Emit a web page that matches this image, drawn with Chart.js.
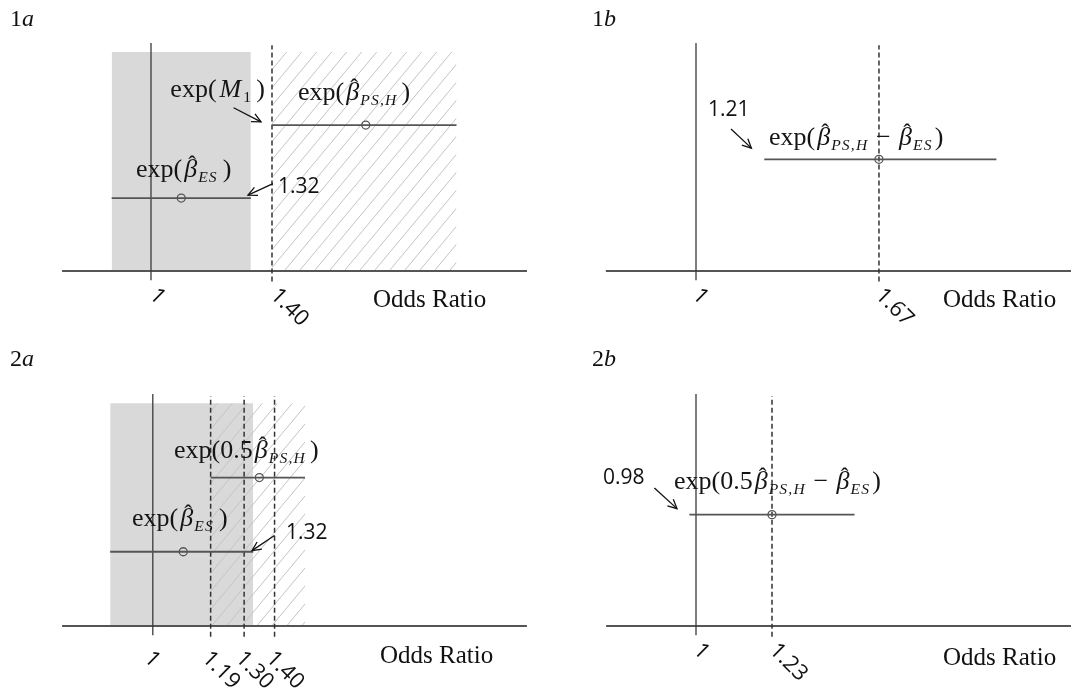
<!DOCTYPE html>
<html><head><meta charset="utf-8">
<script src="https://cdn.jsdelivr.net/npm/chart.js@4.4.1/dist/chart.umd.min.js"></script>
<style>
html,body{margin:0;padding:0;background:#fff;}
#wrap{position:relative;width:1071px;height:688px;overflow:hidden;background:#fff;}
canvas{position:absolute;}
</style></head><body>
<div id="wrap">
<canvas id="c1a" width="535" height="340" style="left:0;top:0"></canvas>
<canvas id="c1b" width="536" height="340" style="left:535px;top:0"></canvas>
<canvas id="c2a" width="535" height="348" style="left:0;top:340px"></canvas>
<canvas id="c2b" width="536" height="348" style="left:535px;top:340px"></canvas>
</div>
<script>
// ---------------- data (odds-ratio values) ----------------
// Panel 1a
const ticks1a = [1, 1.40];
const tickLabels1a = ['1', '1.40'];
const dashed1a = [1.40];
const ciLevel1a = [32, 64];          // rows: exp(b_ES), exp(b_PS,H)
const ciLow1a = [0.87, 1.40];
const ciEst1a = [1.10, 1.71];
const ciHigh1a = [1.33, 2.01];
const shade1a = [0.87, 1.33];
const hatch1a = [1.40, 2.01];

// Panel 1b
const ticks1b = [1, 1.67];
const tickLabels1b = ['1', '1.67'];
const dashed1b = [1.67];
const ciLevel1b = [49];
const ciLow1b = [1.25];
const ciEst1b = [1.67];
const ciHigh1b = [2.10];

// Panel 2a
const ticks2a = [1, 1.19, 1.30, 1.40];
const tickLabels2a = ['1', '1.19', '1.30', '1.40'];
const dashed2a = [1.19, 1.30, 1.40];
const ciLevel2a = [32, 64];
const ciLow2a = [0.86, 1.19];
const ciEst2a = [1.10, 1.35];
const ciHigh2a = [1.33, 1.50];
const shade2a = [0.86, 1.33];
const hatch2a = [1.19, 1.50];

// Panel 2b
const ticks2b = [1, 1.23];
const tickLabels2b = ['1', '1.23'];
const dashed2b = [1.23];
const ciLevel2b = [48];
const ciLow2b = [0.98];
const ciEst2b = [1.23];
const ciHigh2b = [1.48];

// ---------------- styles ----------------
const SERIF = '"Liberation Serif", "Times New Roman", serif';
const SANS = '"Open Sans", "Noto Sans", sans-serif';
const MATH_SIZE = 26;

function hatchPattern() {
  const c = document.createElement('canvas');
  c.width = 15; c.height = 18;
  const g = c.getContext('2d');
  g.strokeStyle = '#c4c4c4';
  g.lineWidth = 1;
  g.beginPath(); g.moveTo(-15, 36); g.lineTo(30, -18); g.stroke();
  return g.createPattern(c, 'repeat');
}
const HATCH = hatchPattern();

// math snippets
const B = (sub) => [{t: 'β', it: 1, hat: 1, dx: 2}, {t: sub, sub: 1, it: 1, dx: 1}];
const mathM1 = [{t: 'exp('}, {t: 'M', it: 1, dx: 3}, {t: '1', sub: 1, dx: 2}, {t: ')', dx: 4}];
const mathPS = [{t: 'exp('}, ...B('PS,H'), {t: ')', dx: 4}];
const mathES = [{t: 'exp('}, ...B('ES'), {t: ')', dx: 5}];
const mathDiff = [{t: 'exp('}, ...B('PS,H'), {t: ' − ', dx: 1}, ...B('ES'), {t: ')', dx: 2}];
const mathHalf = [{t: 'exp(0.5'}, ...B('PS,H'), {t: ')', dx: 4}];
const mathHalfDiff = [{t: 'exp(0.5'}, ...B('PS,H'), {t: ' − ', dx: 1}, ...B('ES'), {t: ')', dx: 2}];

function drawRich(ctx, x, y, parts, size) {
  let cx = x;
  ctx.textBaseline = 'alphabetic';
  ctx.textAlign = 'left';
  ctx.fillStyle = '#151515';
  for (const p of parts) {
    cx += (p.dx || 0);
    if (p.sub) {
      const s = size * 0.6;
      ctx.font = (p.it ? 'italic ' : '') + s + 'px ' + SERIF;
      for (const ch of p.t) {
        ctx.fillText(ch, cx, y + size * 0.2);
        cx += ctx.measureText(ch).width + 1.2;
      }
    } else {
      ctx.font = (p.it ? 'italic ' : '') + size + 'px ' + SERIF;
      ctx.fillText(p.t, cx, y);
      const w = ctx.measureText(p.t).width;
      if (p.hat) {
        ctx.font = (size * 0.9) + 'px ' + SERIF;
        ctx.textAlign = 'center';
        ctx.fillText('ˆ', cx + w * 0.62, y - size * 0.2);
        ctx.textAlign = 'left';
      }
      cx += w;
    }
  }
}

function arrow(ctx, x1, y1, x2, y2) {
  ctx.save();
  ctx.strokeStyle = '#111';
  ctx.lineWidth = 1.3;
  ctx.beginPath(); ctx.moveTo(x1, y1); ctx.lineTo(x2, y2); ctx.stroke();
  const a = Math.atan2(y2 - y1, x2 - x1);
  const L = 10, h = 0.45;
  ctx.beginPath();
  ctx.moveTo(x2 - L * Math.cos(a - h), y2 - L * Math.sin(a - h));
  ctx.lineTo(x2, y2);
  ctx.lineTo(x2 - L * Math.cos(a + h), y2 - L * Math.sin(a + h));
  ctx.stroke();
  ctx.restore();
}

// ---------------- panel definitions ----------------
const panels = [
  {id: 'c1a', name: ['1', 'a'], xr: [0.50083, 2.26942], yr: [-30.26, 118.86], axis: [0.706, 2.243],
   ticks: ticks1a, labels: tickLabels1a, dashed: dashed1a,
   lev: ciLevel1a, lo: ciLow1a, est: ciEst1a, hi: ciHigh1a, shade: shade1a, hatch: hatch1a,
   tickOff: [2, 21], odds: [1.734, -12.7],
   texts: [{m: mathM1, at: [1.064, 76.3]}, {m: mathPS, at: [1.486, 75.0]}, {m: mathES, at: [0.9504, 41.2]},
           {n: '1.32', at: [1.4198, 36.8]}],
   arrows: [[1.2731, 71.6, 1.3636, 65.4], [1.4033, 38.3, 1.3207, 33.3]]},
  {id: 'c1b', name: ['1', 'b'], xr: [0.41047, 2.37313], yr: [-30.26, 118.86], axis: [0.670, 2.38],
   ticks: ticks1b, labels: tickLabels1b, dashed: dashed1b,
   lev: ciLevel1b, lo: ciLow1b, est: ciEst1b, hi: ciHigh1b,
   tickOff: [0, 21], odds: [1.9044, -12.7],
   texts: [{n: '1.21', at: [1.0439, 70.8]}, {m: mathDiff, at: [1.2673, 55.3]}],
   arrows: [[1.1282, 62.3, 1.2029, 53.9]]},
  {id: 'c2a', name: ['2', 'a'], xr: [0.49803, 2.25560], yr: [-26.72, 123.28], axis: [0.702, 2.229],
   ticks: ticks2a, labels: tickLabels2a, dashed: dashed2a,
   lev: ciLevel2a, lo: ciLow2a, est: ciEst2a, hi: ciHigh2a, shade: shade2a, hatch: hatch2a,
   tickOff: [-5, 29], odds: [1.7464, -12.9],
   texts: [{m: mathHalf, at: [1.0697, 72.4]}, {m: mathES, at: [0.9317, 43.1]}, {n: '1.32', at: [1.4376, 40.1]}],
   arrows: [[1.3998, 39.0, 1.3259, 32.5]]},
  {id: 'c2b', name: ['2', 'b'], xr: [0.51271, 2.13499], yr: [-26.72, 123.28], axis: [0.728, 2.14],
   ticks: ticks2b, labels: tickLabels2b, dashed: dashed2b,
   lev: ciLevel2b, lo: ciLow2b, est: ciEst2b, hi: ciHigh2b,
   tickOff: [1, 21], odds: [1.7476, -13.8],
   texts: [{n: '0.98', at: [0.7185, 63.6]}, {m: mathHalfDiff, at: [0.9334, 59.1]}],
   arrows: [[0.8741, 59.5, 0.9425, 50.6]]}
];

const SHADE_TOP = 96, LINE_TOP = 100, DASH_TOP = 99, LINE_BOTTOM = -4, DASH_BOTTOM = -4.6;

function build(P) {
  const ds = [];
  const base = {showLine: true, pointRadius: 0, fill: false, tension: 0};
  if (P.shade) ds.push({...base, data: [{x: P.shade[0], y: SHADE_TOP}, {x: P.shade[1], y: SHADE_TOP}],
    fill: 'origin', backgroundColor: '#d9d9d9', borderWidth: 0, borderColor: 'rgba(0,0,0,0)', order: 20});
  if (P.hatch) ds.push({...base, data: [{x: P.hatch[0], y: SHADE_TOP}, {x: P.hatch[1], y: SHADE_TOP}],
    fill: 'origin', backgroundColor: HATCH, borderWidth: 0, borderColor: 'rgba(0,0,0,0)', order: 19});
  ds.push({...base, data: [{x: P.axis[0], y: 0}, {x: P.axis[1], y: 0}], borderColor: '#555', borderWidth: 2, order: 5});
  ds.push({...base, data: [{x: 1, y: LINE_BOTTOM}, {x: 1, y: LINE_TOP}], borderColor: '#3a3a3a', borderWidth: 1.3, order: 4});
  P.dashed.forEach(v => ds.push({...base, data: [{x: v, y: DASH_BOTTOM}, {x: v, y: DASH_TOP}],
    borderColor: '#333', borderWidth: 1.5, borderDash: [5, 3], order: 3}));
  P.lo.forEach((lo, i) => ds.push({...base, data: [{x: lo, y: P.lev[i]}, {x: P.hi[i], y: P.lev[i]}],
    borderColor: '#555', borderWidth: 1.8, order: 2}));
  ds.push({showLine: false, data: P.est.map((e, i) => ({x: e, y: P.lev[i]})), pointRadius: 4,
    pointBorderColor: '#555', pointBackgroundColor: 'rgba(0,0,0,0)', pointBorderWidth: 1.3, order: 1});

  const annot = {
    id: 'annot',
    afterDatasetsDraw(chart) {
      const ctx = chart.ctx, xs = chart.scales.x, ys = chart.scales.y;
      const X = v => xs.getPixelForValue(v), Y = v => ys.getPixelForValue(v);
      ctx.save();
      // panel label
      const lx = P.id.endsWith('a') ? 10 : 57;
      ctx.fillStyle = '#111';
      ctx.textBaseline = 'alphabetic'; ctx.textAlign = 'left';
      ctx.font = '24px ' + SERIF;
      ctx.fillText(P.name[0], lx, 26);
      const w0 = ctx.measureText(P.name[0]).width;
      ctx.font = 'italic 24px ' + SERIF;
      ctx.fillText(P.name[1], lx + w0, 26);
      // tick labels (rotated)
      const ay = Y(0);
      ctx.font = '22px ' + SANS;
      ctx.textBaseline = 'middle';
      P.ticks.forEach((t, i) => {
        ctx.save();
        ctx.translate(X(t) + P.tickOff[0], ay + P.tickOff[1]);
        ctx.rotate(Math.PI / 4);
        ctx.fillText(P.labels[i], 0, 0);
        ctx.restore();
      });
      // axis title
      ctx.font = '25px ' + SERIF;
      ctx.textBaseline = 'middle';
      ctx.fillText('Odds Ratio', X(P.odds[0]), Y(P.odds[1]));
      // annotations
      P.texts.forEach(T => {
        if (T.m) drawRich(ctx, X(T.at[0]), Y(T.at[1]), T.m, MATH_SIZE);
        else {
          ctx.fillStyle = '#111';
          ctx.font = '21px ' + SANS;
          ctx.textBaseline = 'middle'; ctx.textAlign = 'left';
          ctx.fillText(T.n, X(T.at[0]), Y(T.at[1]));
        }
      });
      P.arrows.forEach(a => arrow(ctx, X(a[0]), Y(a[1]), X(a[2]), Y(a[3])));
      ctx.restore();
    }
  };

  new Chart(document.getElementById(P.id), {
    type: 'scatter',
    data: {datasets: ds},
    options: {
      responsive: false, animation: false, devicePixelRatio: 1,
      layout: {padding: 0, autoPadding: false},
      plugins: {legend: {display: false}, tooltip: {enabled: false}},
      events: [],
      scales: {
        x: {type: 'linear', min: P.xr[0], max: P.xr[1], display: false},
        y: {type: 'linear', min: P.yr[0], max: P.yr[1], display: false}
      }
    },
    plugins: [annot]
  });
}
panels.forEach(build);
</script>
</body></html>
